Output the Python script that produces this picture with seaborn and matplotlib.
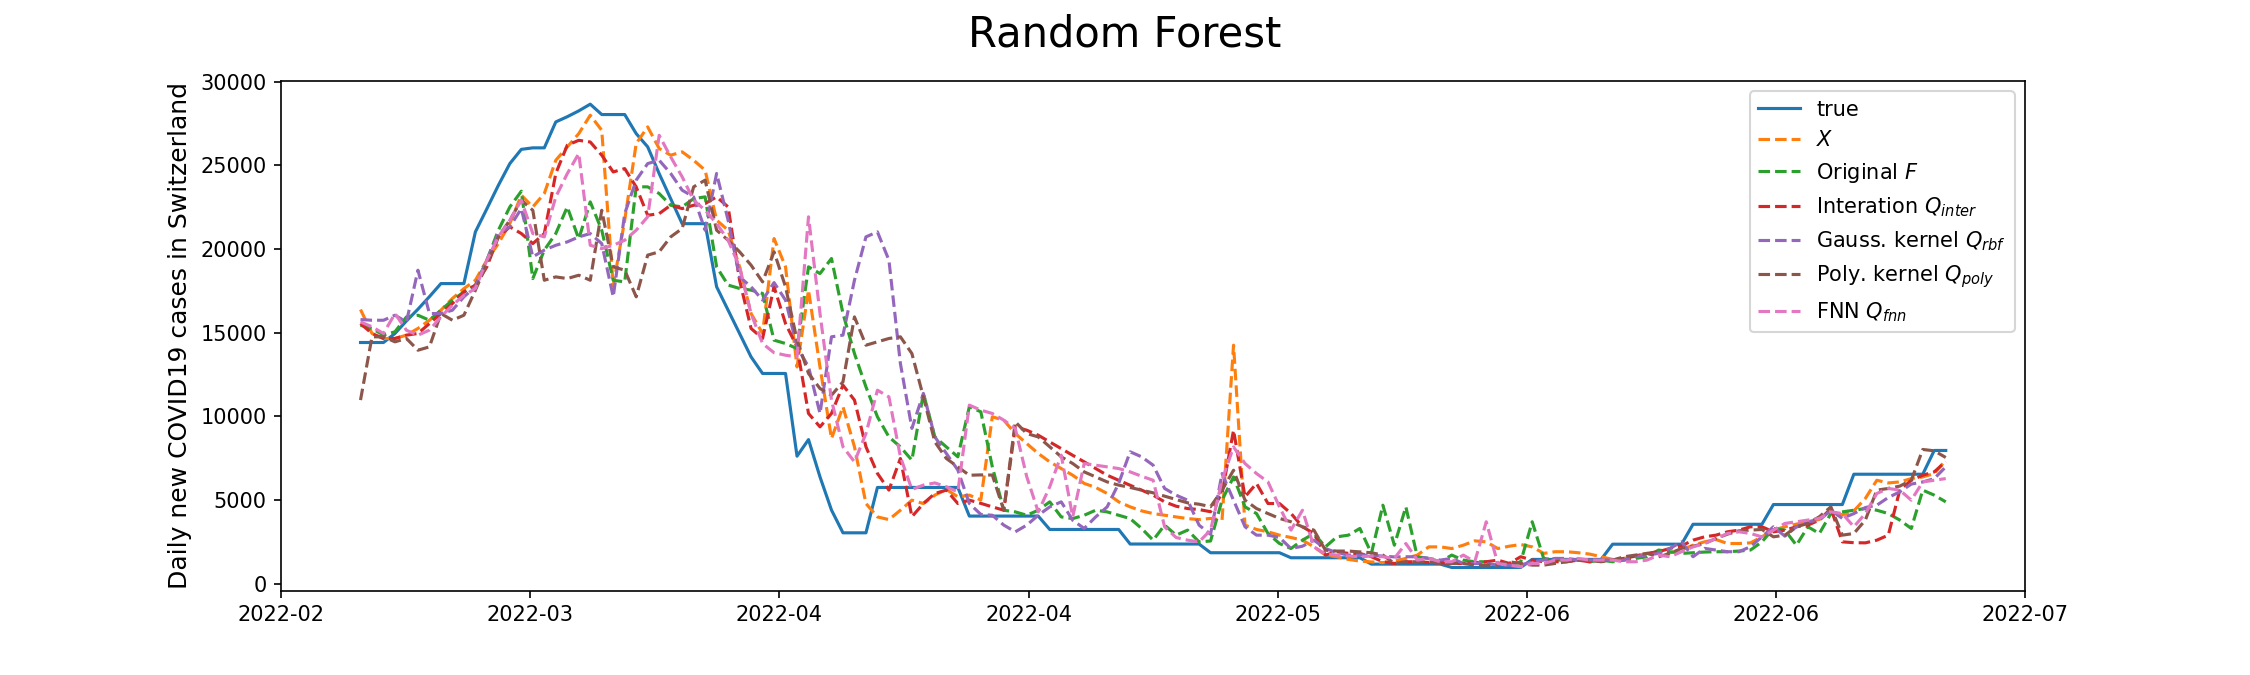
import matplotlib
matplotlib.use("Agg")
import matplotlib.pyplot as plt
import matplotlib.dates as mdates
from matplotlib.ticker import LinearLocator
import pandas as pd
import seaborn as sns

# ---------------- data (daily values) ----------------
start_date = "2022-02-25"

series_labels = ["true", "$X$", "Original $F$", "Interation $Q_{inter}$",
                 "Gauss. kernel $Q_{rbf}$", "Poly. kernel $Q_{poly}$", "FNN $Q_{fnn}$"]

true_vals = [
    14410, 14410, 14410, 14950, 15700, 16400, 17150, 17930, 17930, 17930,
    21020, 22400, 23800, 25100, 25950, 26040, 26040, 27590, 27900, 28250,
    28650, 28030, 28030, 28030, 26890, 26100, 24500, 23010, 21510, 21510,
    21510, 17740, 16340, 14940, 13550, 12560, 12560, 12560, 7620, 8610,
    6380, 4400, 3040, 3040, 3040, 5750, 5750, 5750, 5750, 5750,
    5750, 5750, 5750, 4040, 4040, 4040, 4040, 4040, 4040, 4040,
    3240, 3240, 3240, 3240, 3240, 3240, 3240, 2370, 2370, 2370,
    2370, 2370, 2370, 2370, 1850, 1850, 1850, 1850, 1850, 1850,
    1850, 1550, 1550, 1550, 1550, 1550, 1550, 1550, 1170, 1170,
    1170, 1170, 1170, 1170, 1170, 970, 970, 970, 970, 970,
    970, 970, 1450, 1450, 1450, 1450, 1450, 1450, 1450, 2360,
    2360, 2360, 2360, 2360, 2360, 2360, 3550, 3550, 3550, 3550,
    3550, 3550, 3550, 4730, 4730, 4730, 4730, 4730, 4730, 4730,
    6540, 6540, 6540, 6540, 6540, 6540, 6540, 7960, 7960,
]

x_vals = [
    16380, 14950, 14650, 14650, 14850, 15250, 15740, 16340, 17040, 17630,
    18130, 19330, 20320, 21520, 23210, 22510, 23310, 25300, 26100, 26890,
    27990, 27090, 17800, 21720, 26300, 27290, 26000, 25600, 25800, 25300,
    24700, 21720, 21120, 18930, 16140, 14950, 20620, 18930, 12950, 17540,
    12950, 8670, 10570, 8180, 4790, 3990, 3830, 4390, 4990, 4790,
    5290, 5630, 5190, 5290, 5000, 9970, 9770, 8970, 8370, 7780,
    7280, 6880, 6480, 5990, 5750, 5390, 4890, 4590, 4350, 4190,
    4090, 3990, 3890, 3830, 3900, 3800, 14250, 3500, 3240, 3100,
    2900, 2760, 2600, 2200, 1710, 1610, 1450, 1350, 1300, 1260,
    1350, 1510, 1710, 2200, 2200, 2100, 2300, 2560, 2500, 2100,
    2240, 2340, 2200, 1810, 1910, 1910, 1850, 1770, 1610, 1450,
    1510, 1650, 1810, 1910, 1850, 2010, 2300, 2500, 2640, 2400,
    2400, 2440, 2800, 3200, 3400, 3560, 3700, 3840, 4390, 4100,
    4350, 5090, 6180, 6020, 6080, 6280, 6380, 6580, 7380,
]

original_f = [
    15440, 15250, 14850, 15050, 15940, 16040, 15740, 16340, 16940, 17430,
    17830, 19330, 21120, 22510, 23450, 18230, 19930, 20920, 22510, 20600,
    22810, 21120, 18130, 18030, 23710, 23710, 23310, 22610, 22510, 23010,
    23110, 18930, 17840, 17640, 17540, 17340, 14550, 14350, 14050, 18930,
    18530, 19430, 16140, 13750, 11760, 9970, 8770, 8170, 7380, 11370,
    8770, 8170, 7580, 10570, 10270, 6990, 4390, 4290, 4090, 4390,
    4890, 3990, 3890, 4090, 4390, 4290, 4090, 3890, 3300, 2600,
    3500, 2900, 3200, 2500, 2550, 4990, 6380, 4590, 4190, 3000,
    2400, 2100, 2600, 3000, 2200, 2800, 2900, 3300, 1810, 4690,
    2300, 4590, 1610, 1510, 1310, 1710, 1410, 1310, 1310, 1250,
    1110, 1310, 3700, 1510, 1410, 1410, 1410, 1310, 1410, 1310,
    1410, 1510, 1610, 2010, 1910, 1810, 1850, 1890, 1910, 1910,
    1950, 2010, 2500, 3300, 3200, 2300, 3400, 3000, 4190, 4290,
    4390, 4490, 4390, 4190, 3800, 3300, 5590, 5290, 4890,
]

q_inter = [
    15540, 14950, 14650, 14650, 14850, 14950, 15540, 16140, 16740, 17430,
    17830, 18930, 20720, 21320, 20920, 20320, 20920, 24510, 26200, 26490,
    26390, 25600, 24600, 24800, 23700, 22010, 22110, 22610, 22410, 22610,
    22710, 23110, 22510, 18130, 15250, 14650, 17740, 15540, 14150, 10170,
    9370, 10170, 11860, 10970, 8180, 6590, 5590, 7480, 4000, 4790,
    5390, 5590, 4790, 4990, 4800, 4590, 4390, 9370, 9170, 8870,
    8470, 8070, 7670, 7280, 6880, 6480, 6180, 5880, 5590, 5290,
    4890, 4630, 4490, 4430, 4300, 5390, 9170, 5190, 5990, 4790,
    4790, 4200, 3400, 3000, 1710, 1910, 1810, 1810, 1610, 1310,
    1210, 1310, 1310, 1270, 1250, 1210, 1210, 1250, 1310, 1410,
    1210, 1610, 1410, 1310, 1310, 1310, 1410, 1310, 1370, 1410,
    1510, 1650, 1810, 1910, 2110, 2260, 2600, 2800, 2900, 3100,
    3200, 3400, 3400, 3100, 3200, 3400, 3500, 3800, 4490, 2500,
    2450, 2440, 2600, 2900, 5590, 6180, 6480, 6680, 7300,
]

q_rbf = [
    15780, 15740, 15740, 16040, 15640, 18730, 16140, 16140, 16340, 17140,
    17740, 19330, 20920, 21320, 22410, 19530, 19930, 20220, 20420, 20720,
    20920, 20320, 17140, 22110, 24110, 25100, 25300, 24510, 23510, 23110,
    21120, 24510, 21720, 18330, 17740, 16940, 17990, 16940, 14150, 12960,
    10170, 14750, 14850, 18130, 20720, 21020, 19330, 13150, 9280, 11370,
    8770, 7780, 6790, 4790, 4140, 4090, 3500, 3100, 3500, 4090,
    4590, 4890, 3790, 3300, 3990, 4590, 5990, 7880, 7580, 7080,
    5690, 5290, 4990, 3500, 2950, 6580, 4990, 3400, 2900, 2900,
    2760, 2100, 2240, 2600, 2100, 1850, 1710, 1710, 1700, 1650,
    1600, 1610, 1610, 1510, 1410, 1510, 1210, 1210, 1210, 1110,
    1110, 1110, 1310, 1410, 1510, 1510, 1410, 1410, 1410, 1410,
    1410, 1610, 1710, 1810, 2110, 2500, 1610, 2110, 2010, 1910,
    1910, 2210, 2800, 3400, 2840, 3400, 3700, 3800, 4390, 3900,
    4190, 4550, 4690, 5150, 5490, 5950, 6080, 6280, 6980,
]

q_poly = [
    10970, 14750, 14750, 14450, 14650, 13950, 14150, 16140, 15740, 16040,
    17530, 19130, 20720, 21720, 22910, 22310, 18130, 18330, 18230, 18430,
    18130, 22310, 18930, 18730, 17140, 19630, 19830, 20720, 21220, 23710,
    24110, 21120, 20520, 19830, 19030, 18030, 19830, 17740, 14550, 12560,
    11660, 11260, 12060, 15940, 14250, 14450, 14650, 14750, 13750, 11160,
    8470, 7480, 6980, 6480, 6500, 6490, 4390, 9670, 8970, 8770,
    8180, 7580, 7180, 6680, 6380, 6080, 5890, 5750, 5590, 5430,
    5230, 5030, 4830, 4750, 4600, 5590, 6780, 4990, 4490, 4190,
    3900, 3700, 3400, 3200, 2000, 1950, 1950, 1900, 1850, 1710,
    1210, 1310, 1310, 1310, 1210, 1210, 1210, 1110, 1110, 1110,
    1310, 1210, 1110, 1110, 1210, 1310, 1410, 1410, 1310, 1410,
    1610, 1710, 1810, 1610, 1810, 2110, 2240, 2400, 2700, 2960,
    3160, 3200, 3240, 2800, 2900, 3400, 3600, 4000, 4590, 2900,
    3000, 3800, 5590, 5690, 5830, 6180, 8020, 7940, 7540,
]

q_fnn = [
    15640, 15350, 14950, 16140, 15140, 14850, 15150, 15940, 16640, 17230,
    17630, 19330, 20720, 21720, 22910, 20920, 20720, 23110, 24500, 25700,
    20220, 20020, 20220, 20520, 21120, 21920, 26790, 25500, 24310, 22910,
    22310, 21520, 20520, 18930, 16140, 14350, 13800, 13650, 13550, 21920,
    16140, 10970, 8180, 7280, 8970, 11560, 11160, 7580, 5630, 5890,
    6020, 5790, 5490, 10670, 10370, 10170, 9770, 9270, 6390, 4290,
    5790, 7680, 3990, 7180, 7080, 6980, 6880, 6680, 6420, 6180,
    3400, 2760, 2600, 2500, 3200, 6190, 8170, 7180, 6580, 6080,
    4590, 3200, 4390, 2200, 1770, 1710, 1650, 1610, 1650, 1610,
    1510, 2400, 1410, 1510, 1310, 1310, 1710, 1310, 3700, 1210,
    1110, 1010, 1210, 1210, 1410, 1410, 1510, 1410, 1410, 1410,
    1310, 1310, 1410, 1710, 1610, 1910, 2200, 2400, 2700, 3000,
    3100, 3000, 2800, 3200, 3600, 3700, 3800, 3900, 4290, 4190,
    3400, 4190, 5390, 5690, 5590, 4990, 6080, 6180, 6280,
]

all_series = [true_vals, x_vals, original_f, q_inter, q_rbf, q_poly, q_fnn]

# ---------------- plotting ----------------
dates = pd.date_range(start_date, periods=len(true_vals), freq="D")

fig, ax = plt.subplots(figsize=(15, 4.5), dpi=150)
fig.subplots_adjust(left=0.125, right=0.9, top=0.88, bottom=0.125)

palette = sns.color_palette("tab10")
for i, (label, vals) in enumerate(zip(series_labels, all_series)):
    sns.lineplot(x=dates, y=vals, ax=ax, color=palette[i],
                 linestyle="-" if i == 0 else "--", linewidth=1.5,
                 label=label)

ax.xaxis.set_major_locator(LinearLocator(8))
ax.xaxis.set_major_formatter(mdates.DateFormatter("%Y-%m"))
ax.set_xlabel("")
ax.set_ylabel("Daily new COVID19 cases in Switzerland", fontsize=12)
ax.legend(loc="upper right")
fig.suptitle("Random Forest", fontsize=20)

fig.savefig("out.png", dpi=150)
